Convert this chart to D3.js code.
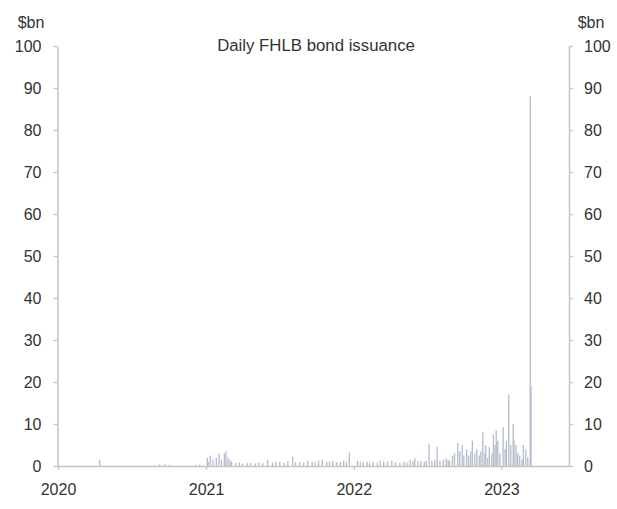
<!DOCTYPE html>
<html>
<head>
<meta charset="utf-8">
<script src="https://cdn.jsdelivr.net/npm/d3@7"></script>
<style>
  html, body { margin: 0; padding: 0; background: #ffffff; }
  svg { display: block; }
  text { font-family: "Liberation Sans", Arial, sans-serif; }
</style>
</head>
<body>
<svg id="chart" width="617" height="509"></svg>
<script>
// ---- data ----
const chartTitle = "Daily FHLB bond issuance";
const unitLabel = "$bn";
const yTicks = [0, 10, 20, 30, 40, 50, 60, 70, 80, 90, 100];
const xTickYears = ["2020", "2021", "2022", "2023"];
const domainStart = "2020-01-01";
const domainEnd = "2023-06-17";

const issueDates = [
  "2020-04-13", "2020-09-08", "2020-09-21", "2020-10-03", "2020-12-07", "2020-12-16",
  "2021-01-04", "2021-01-06", "2021-01-11", "2021-01-18", "2021-01-26", "2021-02-02",
  "2021-02-08", "2021-02-15", "2021-02-19", "2021-02-24", "2021-03-01", "2021-03-05",
  "2021-03-15", "2021-03-24", "2021-04-01", "2021-04-12", "2021-04-21", "2021-05-03",
  "2021-05-11", "2021-05-21", "2021-06-02", "2021-06-14", "2021-06-22", "2021-07-02",
  "2021-07-13", "2021-07-22", "2021-08-03", "2021-08-10", "2021-08-20", "2021-08-30",
  "2021-09-09", "2021-09-20", "2021-09-27", "2021-10-06", "2021-10-15", "2021-10-26",
  "2021-11-02", "2021-11-10", "2021-11-20", "2021-11-29", "2021-12-07", "2021-12-14",
  "2021-12-21",
  "2022-01-10", "2022-01-17", "2022-01-24", "2022-02-03", "2022-02-09", "2022-02-18",
  "2022-02-28", "2022-03-07", "2022-03-16", "2022-03-25", "2022-04-05", "2022-04-14",
  "2022-04-25", "2022-05-05", "2022-05-12", "2022-05-20", "2022-05-27", "2022-06-01",
  "2022-06-09", "2022-06-16", "2022-06-24", "2022-06-29", "2022-07-06", "2022-07-13",
  "2022-07-20", "2022-07-26", "2022-08-02", "2022-08-10", "2022-08-17", "2022-08-22",
  "2022-08-26", "2022-09-02", "2022-09-07", "2022-09-15", "2022-09-20", "2022-09-26",
  "2022-09-30", "2022-10-07", "2022-10-12", "2022-10-17", "2022-10-21", "2022-10-27",
  "2022-11-01", "2022-11-07", "2022-11-11", "2022-11-16", "2022-11-21", "2022-11-23",
  "2022-11-28", "2022-12-02", "2022-12-08", "2022-12-12", "2022-12-16", "2022-12-19",
  "2022-12-23", "2022-12-28",
  "2023-01-05", "2023-01-10", "2023-01-13", "2023-01-19", "2023-01-24", "2023-01-30",
  "2023-02-01", "2023-02-06", "2023-02-10", "2023-02-15", "2023-02-21", "2023-02-24",
  "2023-03-02", "2023-03-07", "2023-03-13", "2023-03-15"
];
const issueValues = [
  1.5, 0.4, 0.5, 0.3, 0.3, 0.3,
  2.0, 1.0, 2.5, 1.5, 2.0, 3.0,
  1.5, 3.0, 3.5, 2.0, 1.5, 1.0,
  0.7, 0.8, 0.6, 0.7, 0.8, 0.6,
  0.9, 0.7, 1.5, 0.8, 1.0, 1.0,
  0.7, 1.2, 2.2, 1.0, 1.0, 0.8,
  1.2, 1.0, 1.0, 1.3, 1.5, 1.0,
  1.1, 1.2, 0.9, 1.0, 1.3, 1.0,
  3.2,
  1.2, 1.0, 0.9, 1.0, 0.8, 1.0,
  0.8, 1.3, 1.0, 1.1, 1.3, 0.9,
  0.8, 1.0, 0.8, 1.5, 1.2, 1.8,
  1.0, 1.2, 1.0, 1.3, 5.3, 1.2,
  1.5, 4.5, 1.2, 1.5, 1.8, 1.5,
  1.2, 2.5, 3.0, 5.5, 3.5, 5.0,
  2.5, 4.0, 2.5, 3.5, 6.0, 3.0,
  4.0, 2.5, 3.5, 8.0, 3.0, 5.0,
  2.0, 4.5, 3.0, 7.5, 5.0, 8.5,
  6.0, 3.0,
  9.3, 4.0, 6.0, 17.0, 5.0, 10.0,
  6.0, 5.0, 3.0, 2.5, 1.5, 5.0,
  4.0, 2.0, 88.0, 19.0
];

// ---- layout ----
const svg = d3.select("#chart");
const plotLeft = 57.5, plotRight = 569, plotTop = 46, plotBottom = 466;
const parse = d3.timeParse("%Y-%m-%d");
const data = issueDates.map((d, i) => ({ date: parse(d), value: issueValues[i] }));

const x = d3.scaleTime().domain([parse(domainStart), parse(domainEnd)]).range([plotLeft + 0.5, plotRight]);
const y = d3.scaleLinear().domain([0, 100]).range([plotBottom, plotTop]);

const axisColor = "#c4c4c4";
const textColor = "#333333";

// bars
svg.append("g").selectAll("rect").data(data).join("rect")
  .attr("x", d => x(d.date) - 0.6)
  .attr("width", 1.3)
  .attr("y", d => y(d.value))
  .attr("height", d => y(0) - y(d.value))
  .attr("fill", "#b3bccb");

// left axis
const gl = svg.append("g").attr("transform", `translate(${plotLeft},0)`)
  .call(d3.axisLeft(y).tickValues(yTicks).tickSize(4).tickSizeOuter(0).tickPadding(12));
// right axis
const gr = svg.append("g").attr("transform", `translate(${plotRight},0)`)
  .call(d3.axisRight(y).tickValues(yTicks).tickSize(4).tickSizeOuter(0).tickPadding(11));
// bottom axis
const gb = svg.append("g").attr("transform", `translate(0,${plotBottom})`)
  .call(d3.axisBottom(x)
    .tickValues(xTickYears.map(s => parse(s + "-01-01")))
    .tickFormat(d3.timeFormat("%Y"))
    .tickSize(4).tickSizeOuter(0).tickPadding(14));
gb.select(".domain").attr("d", `M${plotLeft},0.5H${plotRight}`);

[gl, gr, gb].forEach(g => {
  g.select(".domain").attr("stroke", axisColor).attr("stroke-width", 1.5);
  g.selectAll(".tick line").attr("stroke", axisColor).attr("stroke-width", 1.2);
  g.selectAll(".tick text").attr("fill", textColor)
    .style("font-size", "16px").style("font-family", '"Liberation Sans", Arial, sans-serif');
});

// unit labels
svg.append("text").attr("x", 31).attr("y", 28).attr("text-anchor", "middle")
  .attr("fill", textColor).style("font-size", "16px").text(unitLabel);
svg.append("text").attr("x", 591).attr("y", 28).attr("text-anchor", "middle")
  .attr("fill", textColor).style("font-size", "16px").text(unitLabel);

// title
svg.append("text").attr("x", 316).attr("y", 51).attr("text-anchor", "middle")
  .attr("fill", textColor).style("font-size", "16.8px").text(chartTitle);
</script>
</body>
</html>
